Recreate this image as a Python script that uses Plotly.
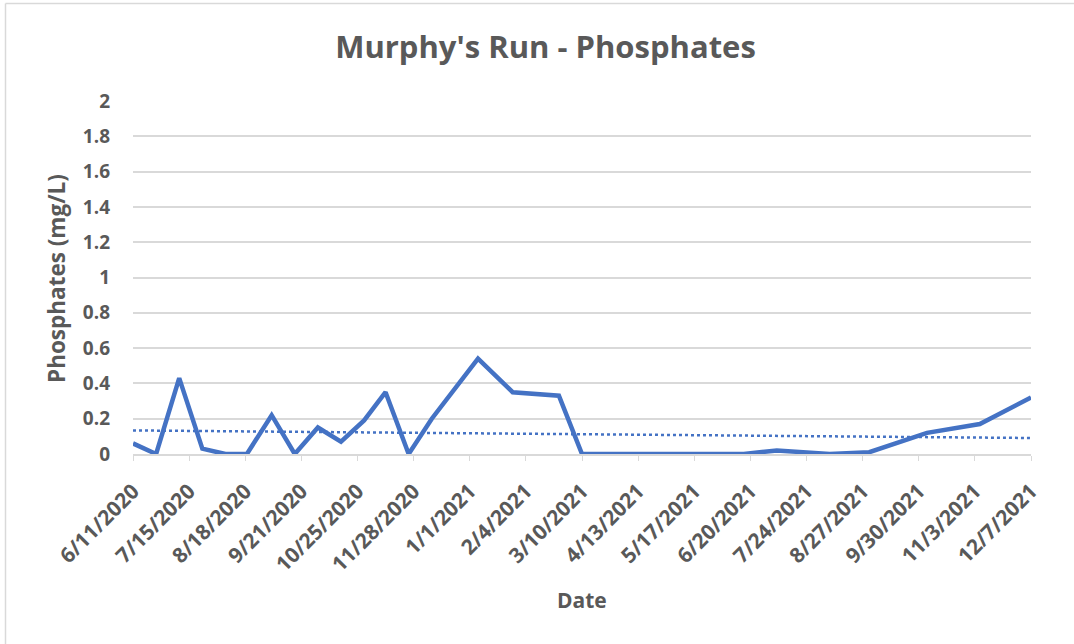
import numpy as np
import pandas as pd
import plotly.graph_objects as go
from datetime import date, timedelta

# ---- data ----
dates = [
    "2020-06-11", "2020-06-25", "2020-07-09", "2020-07-23", "2020-08-06", "2020-08-19",
    "2020-09-03", "2020-09-17", "2020-10-01", "2020-10-15", "2020-10-29", "2020-11-11",
    "2020-11-25", "2020-12-09", "2021-01-06", "2021-01-27", "2021-02-24", "2021-03-10",
    "2021-03-24", "2021-04-07", "2021-04-21", "2021-05-05", "2021-05-19", "2021-06-02",
    "2021-06-16", "2021-07-06", "2021-08-07", "2021-08-31", "2021-10-05", "2021-11-06",
    "2021-12-07",
]
phosphates = [
    0.06, 0.00, 0.43, 0.03, 0.00, 0.00,
    0.22, 0.00, 0.15, 0.07, 0.19, 0.35,
    0.00, 0.20, 0.54, 0.35, 0.33, 0.00,
    0.00, 0.00, 0.00, 0.00, 0.00, 0.00,
    0.00, 0.02, 0.00, 0.01, 0.12, 0.17,
    0.32,
]
tick_dates = [date(2020, 6, 11) + timedelta(days=34 * i) for i in range(17)]
tick_labels = [f"{d.month}/{d.day}/{d.year}" for d in tick_dates]
y_ticks = [0, 0.2, 0.4, 0.6, 0.8, 1, 1.2, 1.4, 1.6, 1.8, 2]
y_labels = ["0", "0.2", "0.4", "0.6", "0.8", "1", "1.2", "1.4", "1.6", "1.8", "2"]

# ---- linear trendline (least squares on date serials) ----
dt = pd.to_datetime(dates)
xnum = (dt - dt[0]).days.values.astype(float)
slope, intercept = np.polyfit(xnum, np.array(phosphates), 1)
trend_x = [dt[0], dt[-1]]
trend_y = [intercept, intercept + slope * xnum[-1]]

BLUE = "#4472C4"
GREY = "#595959"
GRID = "#D9D9D9"
FONT = "Open Sans"

W, H = 1074, 644
L, R, T, B = 133, 1031, 101, 454
PW, PH = R - L, B - T

fig = go.Figure()
fig.add_trace(go.Scatter(x=dt, y=phosphates, mode="lines",
                         line=dict(color=BLUE, width=4.5), showlegend=False))
fig.add_trace(go.Scatter(x=trend_x, y=trend_y, mode="lines",
                         line=dict(color=BLUE, width=2.5, dash="dot"), showlegend=False))

fig.update_layout(
    width=W, height=H,
    margin=dict(l=L, r=W - R, t=T, b=H - B),
    paper_bgcolor="white", plot_bgcolor="white",
    font=dict(family=FONT, color=GREY),
    title=dict(text="<b>Murphy's Run - Phosphates</b>", x=(336 + 755) / 2 / W, xanchor="center",
               y=1 - 47 / H, yanchor="middle",
               font=dict(size=31, family=FONT, color=GREY)),
)
fig.update_xaxes(
    type="date",
    range=[tick_dates[0].isoformat(), tick_dates[-1].isoformat()],
    tickvals=[d.isoformat() for d in tick_dates],
    ticktext=[f"<b>{t}</b>" for t in tick_labels],
    tickangle=-45, tickfont=dict(size=21, family=FONT, color=GREY),
    ticks="outside", ticklen=5, tickcolor=GRID, ticklabelstandoff=10,
    showgrid=False, showline=True, linecolor=GRID, linewidth=1.5,
    zeroline=False,
)
fig.update_yaxes(
    range=[0, 2], tickvals=y_ticks, ticktext=[f"<b>{t}</b>" for t in y_labels],
    tickfont=dict(size=19, family=FONT, color=GREY),
    showgrid=True, gridcolor=GRID, gridwidth=1.5, zeroline=False,
    showline=False, ticks="", ticklabelstandoff=22,
)

# axis titles
fig.add_annotation(text="<b>Date</b>", xref="paper", yref="paper",
                   x=0.5, y=(B - 600) / PH, xanchor="center", yanchor="middle",
                   showarrow=False, font=dict(size=21, family=FONT, color=GREY))
fig.add_annotation(text="<b>Phosphates (mg/L)</b>", xref="paper", yref="paper",
                   x=(56 - L) / PW, y=(B - 279) / PH, xanchor="center", yanchor="middle",
                   textangle=-90, showarrow=False,
                   font=dict(size=22.5, family=FONT, color=GREY))

# chart border (left and top edges visible)
fig.add_shape(type="line", xref="paper", yref="paper",
              x0=(5.5 - L) / PW, x1=(5.5 - L) / PW,
              y0=(B - 3.5) / PH, y1=(B - 660) / PH,
              line=dict(color=GRID, width=1.5))
fig.add_shape(type="line", xref="paper", yref="paper",
              x0=(5.5 - L) / PW, x1=(1090 - L) / PW,
              y0=(B - 3.5) / PH, y1=(B - 3.5) / PH,
              line=dict(color=GRID, width=1.5))

fig.write_html("out.html", config={"displayModeBar": False},
               post_script="document.body.style.margin='0';")
